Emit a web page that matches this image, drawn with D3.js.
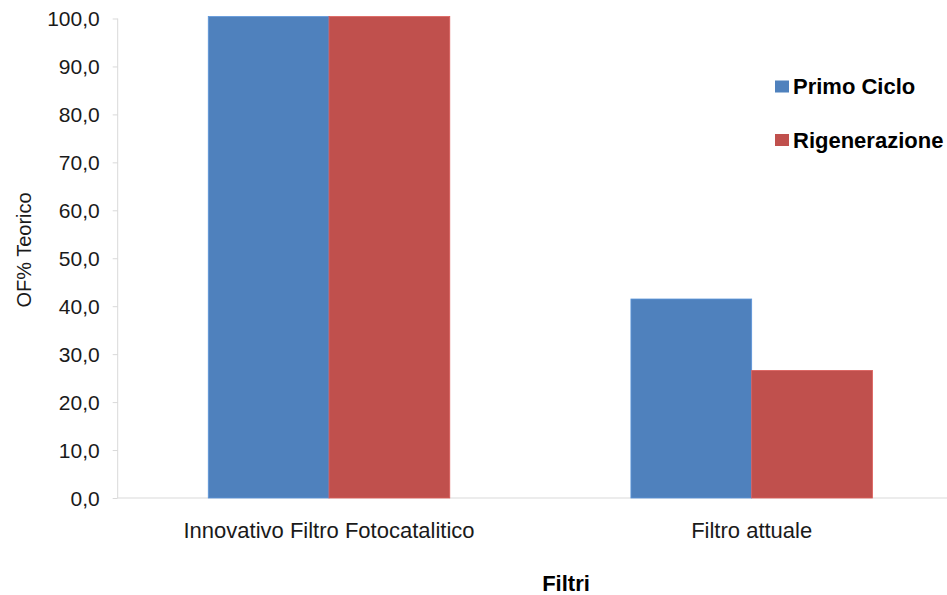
<!DOCTYPE html>
<html>
<head>
<meta charset="utf-8">
<script src="https://cdn.jsdelivr.net/npm/d3@7"></script>
<style>
  html, body { margin: 0; padding: 0; background: #fff; }
  svg { display: block; font-family: "Liberation Sans", Arial, sans-serif; }
</style>
</head>
<body>
<svg id="chart" width="947" height="595"></svg>
<script>
// Filter categories and the two measurement series (OF% Teorico)
const categories = ["Innovativo Filtro Fotocatalitico", "Filtro attuale"];
const seriesNames = ["Primo Ciclo", "Rigenerazione"];
const primoCiclo = [100.4, 41.5];
const rigenerazione = [100.4, 26.6];
const yTicks = [0, 10, 20, 30, 40, 50, 60, 70, 80, 90, 100];
const colors = ["#4F81BD", "#C0504D"];

const seriesValues = [primoCiclo, rigenerazione];
const rows = categories.map((c, i) => ({
  category: c,
  values: seriesNames.map((s, k) => ({ series: s, value: seriesValues[k][i], k }))
}));

const svg = d3.select("#chart");

const plot = { left: 117.7, right: 963, top: 18.5, bottom: 498 };

const y = d3.scaleLinear().domain([0, 100]).range([plot.bottom, plot.top]);

// Excel-style clustered columns: gap width 150% of a single bar
const gapRatio = 1.5 / 3.5;
const x0 = d3.scaleBand()
  .domain(categories)
  .range([plot.left, plot.right])
  .paddingInner(gapRatio)
  .paddingOuter(gapRatio / 2);
const x1 = d3.scaleBand().domain(seriesNames).range([0, x0.bandwidth()]);

const itLocale = d3.formatLocale({ decimal: ",", thousands: ".", grouping: [3], currency: ["€", ""] });
const fmt = itLocale.format(".1f");

// Y axis
const yAxis = d3.axisLeft(y).tickValues(yTicks).tickFormat(fmt).tickSize(5).tickPadding(13);
const gy = svg.append("g").attr("transform", `translate(${plot.left},0)`).call(yAxis);
gy.select(".domain").attr("stroke", "#d9d9d9").attr("d", `M0,${plot.top}V${plot.bottom}`);
gy.selectAll(".tick line").attr("stroke", "#d9d9d9");
gy.selectAll(".tick text")
  .attr("fill", "#1a1a1a")
  .style("font-size", "21px")
  .attr("dy", "0.35em");

// X axis baseline
svg.append("line")
  .attr("x1", plot.left).attr("x2", 947)
  .attr("y1", plot.bottom).attr("y2", plot.bottom)
  .attr("stroke", "#d9d9d9");

// Bars
const groups = svg.append("g").selectAll("g")
  .data(rows).join("g")
  .attr("transform", d => `translate(${x0(d.category)},0)`);

groups.selectAll("rect")
  .data(d => d.values).join("rect")
  .attr("x", d => x1(d.series))
  .attr("width", x1.bandwidth())
  .attr("y", d => y(d.value))
  .attr("height", d => y(0) - y(d.value))
  .attr("fill", d => colors[d.k])
  .attr("stroke", d => d3.color(colors[d.k]).brighter(0.4))
  .attr("stroke-width", 0.8);

// Category labels
svg.append("g").selectAll("text")
  .data(categories).join("text")
  .attr("x", d => x0(d) + x0.bandwidth() / 2)
  .attr("y", 538)
  .attr("text-anchor", "middle")
  .attr("fill", "#1a1a1a")
  .style("font-size", "22px")
  .text(d => d);

// Axis titles
svg.append("text")
  .attr("x", 566).attr("y", 591)
  .attr("text-anchor", "middle")
  .attr("fill", "#000")
  .style("font-size", "22px")
  .style("font-weight", "bold")
  .text("Filtri");

svg.append("text")
  .attr("transform", "translate(31,250) rotate(-90)")
  .attr("text-anchor", "middle")
  .attr("fill", "#1a1a1a")
  .style("font-size", "20px")
  .text("OF% Teorico");

// Legend
const legend = svg.append("g").selectAll("g")
  .data(seriesNames).join("g")
  .attr("transform", (d, i) => `translate(775,${80.5 + i * 53.5})`);
legend.append("rect")
  .attr("width", 14).attr("height", 12)
  .attr("fill", (d, i) => colors[i]);
legend.append("text")
  .attr("x", 18).attr("y", 13.5)
  .attr("fill", "#000")
  .style("font-size", "22px")
  .style("font-weight", "bold")
  .text(d => d);
</script>
</body>
</html>
